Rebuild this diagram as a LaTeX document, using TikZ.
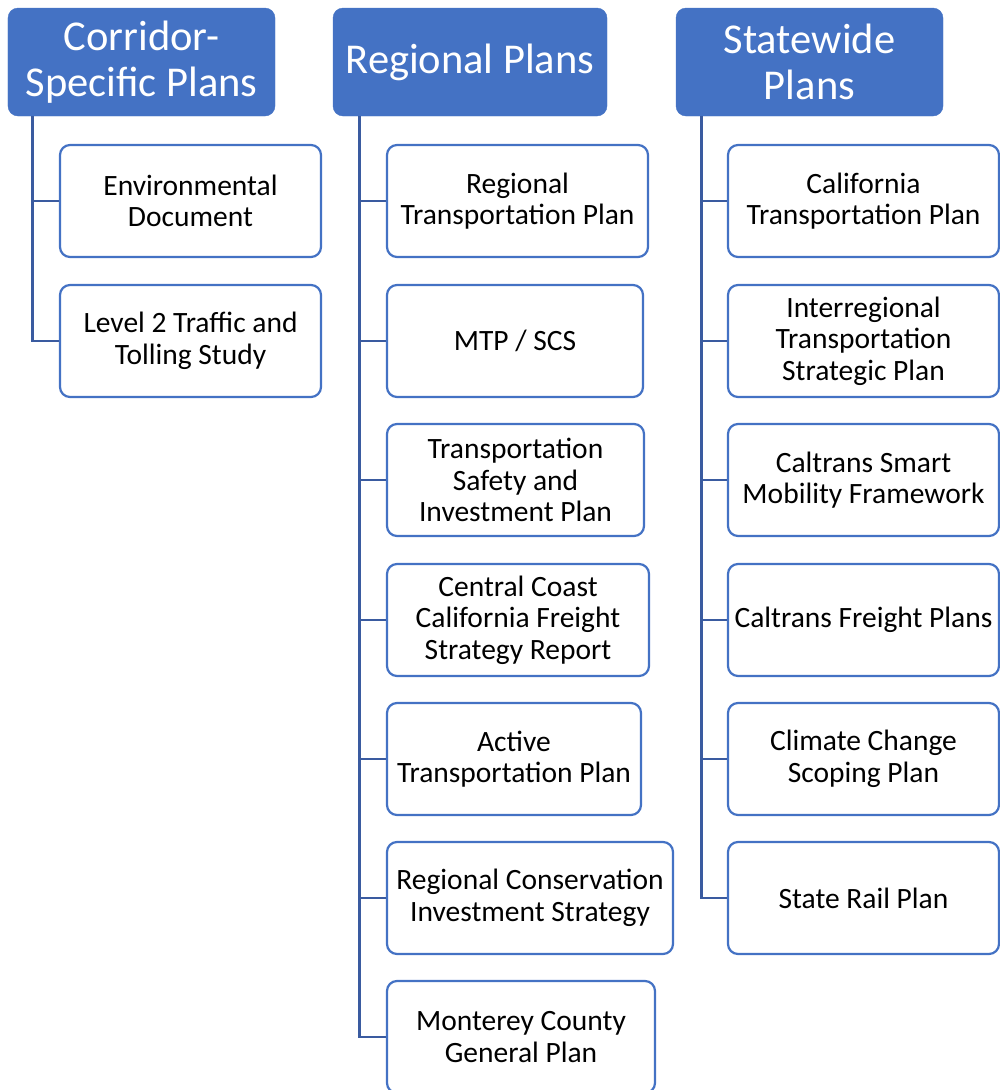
\documentclass[tikz,border=0pt]{standalone}
\usepackage{fontspec}
\setmainfont{Carlito}
\definecolor{hdr}{HTML}{4472C4}
\definecolor{conncol}{HTML}{3A5BA0}
\tikzset{
  hdrbox/.style={draw=hdr, fill=hdr, rounded corners=10bp, text=white, align=center,
    inner sep=0pt, font=\fontsize{42.5bp}{46bp}\selectfont},
  itembox/.style={draw=hdr, line width=2.2bp, fill=white, rounded corners=10bp, align=center,
    inner sep=0pt, font=\fontsize{29.5bp}{31.5bp}\selectfont},
  conn/.style={draw=conncol, line width=2.8bp}
}
\begin{document}
\begin{tikzpicture}[x=1bp,y=-1bp]
\useasboundingbox (0,0) rectangle (1000,1090);
\clip (0,0) rectangle (1000,1090);
% headers
\node[hdrbox, minimum width=267bp, minimum height=108bp] (h1) at (141.5,62) {Corridor-\\Specific Plans};
\node[hdrbox, minimum width=274bp, minimum height=108bp] (h2) at (470,62) {Regional Plans};
\node[hdrbox, minimum width=267bp, minimum height=108bp] (h3) at (809.5,62) {Statewide\\Plans};
% corridor children
\node[itembox, minimum width=261bp, minimum height=112bp] (c1) at (190.5,201) {Environmental\\Document};
\node[itembox, minimum width=261bp, minimum height=112bp] (c2) at (190.5,341) {Level 2 Traffic and\\Tolling Study};
% regional children
\node[itembox, minimum width=261bp, minimum height=112bp] (r1) at (517.5,201) {Regional\\Transportation Plan};
\node[itembox, minimum width=256bp, minimum height=112bp] (r2) at (515,341) {MTP / SCS};
\node[itembox, minimum width=257bp, minimum height=112bp] (r3) at (515.5,480) {Transportation\\Safety and\\Investment Plan};
\node[itembox, minimum width=262bp, minimum height=112bp] (r4) at (518,620) {Central Coast\\California Freight\\Strategy Report};
\node[itembox, minimum width=254bp, minimum height=112bp] (r5) at (514,759) {Active\\Transportation Plan};
\node[itembox, minimum width=286bp, minimum height=112bp] (r6) at (530,898) {Regional Conservation\\Investment Strategy};
\node[itembox, minimum width=268bp, minimum height=112bp] (r7) at (521,1037) {Monterey County\\General Plan};
% statewide children
\node[itembox, minimum width=271bp, minimum height=112bp] (s1) at (863.5,201) {California\\Transportation Plan};
\node[itembox, minimum width=271bp, minimum height=112bp] (s2) at (863.5,341) {Interregional\\Transportation\\Strategic Plan};
\node[itembox, minimum width=271bp, minimum height=112bp] (s3) at (863.5,480) {Caltrans Smart\\Mobility Framework};
\node[itembox, minimum width=271bp, minimum height=112bp] (s4) at (863.5,620) {Caltrans Freight Plans};
\node[itembox, minimum width=271bp, minimum height=112bp] (s5) at (863.5,759) {Climate Change\\Scoping Plan};
\node[itembox, minimum width=271bp, minimum height=112bp] (s6) at (863.5,898) {State Rail Plan};
% connectors
\foreach \c in {c1,c2} \draw[conn] (h1.south west) ++(25,0) |- (\c.west);
\foreach \c in {r1,r2,r3,r4,r5,r6,r7} \draw[conn] (h2.south west) ++(27,0) |- (\c.west);
\foreach \c in {s1,s2,s3,s4,s5,s6} \draw[conn] (h3.south west) ++(26,0) |- (\c.west);
\end{tikzpicture}
\end{document}
